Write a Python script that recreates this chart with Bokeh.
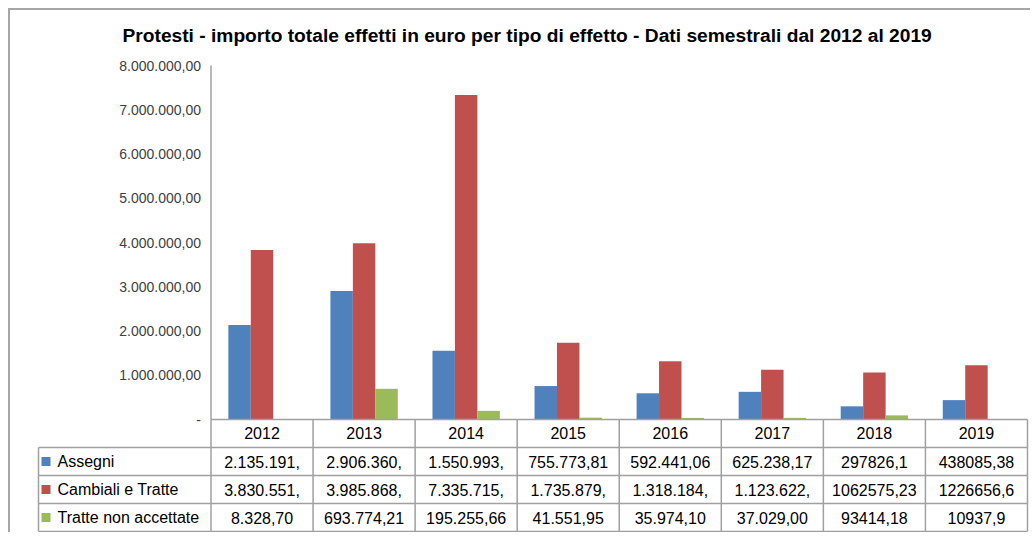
from bokeh.plotting import figure
from bokeh.models import ColumnDataSource, Range1d, LinearAxis, FixedTicker
from bokeh.core.properties import value
from bokeh.embed import file_html
from bokeh.resources import INLINE

# ---------------- data ----------------
years = ["2012", "2013", "2014", "2015", "2016", "2017", "2018", "2019"]
series_names = ["Assegni", "Cambiali e Tratte", "Tratte non accettate"]
assegni = [2135191.0, 2906360.0, 1550993.0, 755773.81, 592441.06, 625238.17, 297826.1, 438085.38]
cambiali = [3830551.0, 3985868.0, 7335715.0, 1735879.0, 1318184.0, 1123622.0, 1062575.23, 1226656.6]
tratte = [8328.70, 693774.21, 195255.66, 41551.95, 35974.10, 37029.00, 93414.18, 10937.9]
assegni_txt = ["2.135.191,", "2.906.360,", "1.550.993,", "755.773,81", "592.441,06", "625.238,17", "297826,1", "438085,38"]
cambiali_txt = ["3.830.551,", "3.985.868,", "7.335.715,", "1.735.879,", "1.318.184,", "1.123.622,", "1062575,23", "1226656,6"]
tratte_txt = ["8.328,70", "693.774,21", "195.255,66", "41.551,95", "35.974,10", "37.029,00", "93414,18", "10937,9"]
y_ticks = [0, 1000000, 2000000, 3000000, 4000000, 5000000, 6000000, 7000000, 8000000]
title_text = "Protesti - importo  totale effetti in euro per tipo di effetto - Dati semestrali dal 2012 al 2019"

# ---------------- layout constants (figure px; figure content starts at page 10,10) ----------------
W, H = 1022, 524
TOP = 40                 # frame top
ZERO_X = 200.5           # x px of category axis start
CAT_PX = 102.06          # px per category
ZERO_Y = 409             # y px of value 0
PX_PER_UNIT = 44.25 / 1e6
ROW_PX = 28.0
FRAME_H = H - TOP
LABEL_LEFT = (28 - ZERO_X) / CAT_PX
KEY_X = (35.5 - ZERO_X) / CAT_PX
TXT_X = (47 - ZERO_X) / CAT_PX
BAR_W = 0.22
colors = ["#4F81BD", "#C0504D", "#9BBB59"]
GRID = "#a0a0a0"
FONT = "Liberation Sans"

x_start = -ZERO_X / CAT_PX
x_end = (W - ZERO_X) / CAT_PX
zy = ZERO_Y - TOP
y_end = zy / PX_PER_UNIT
y_start = -(FRAME_H - zy) / PX_PER_UNIT
t_end = zy / ROW_PX
t_start = -(FRAME_H - zy) / ROW_PX

p = figure(width=W, height=H, output_backend="svg", toolbar_location=None,
           x_range=Range1d(x_start, x_end), y_range=Range1d(y_start, y_end),
           x_axis_location=None, y_axis_location=None,
           min_border_left=0, min_border_right=0, min_border_bottom=0, min_border_top=TOP,
           title=title_text)
p.extra_y_ranges = {"tbl": Range1d(t_start, t_end)}
p.outline_line_color = None
p.xgrid.visible = False
p.ygrid.visible = False
p.title.text_font = FONT
p.title.text_font_size = "19.2px"
p.title.text_font_style = "bold"
p.title.text_color = "black"
p.title.align = "left"
p.title.offset = 112
p.title.standoff = 10
p.styles = {"margin-left": "8px", "margin-top": "8px",
            "border-top": "2px solid #a6a6a6", "border-left": "2px solid #a6a6a6"}

n = len(years)
centers = [i + 0.5 for i in range(n)]

# bars
for k, vals in enumerate([assegni, cambiali, tratte]):
    src = ColumnDataSource(dict(x=[c + (k - 1) * BAR_W for c in centers], top=vals))
    p.vbar(x="x", top="top", bottom=0, width=BAR_W, source=src,
           fill_color=colors[k], line_color=None)

# y axis
yax = LinearAxis(fixed_location=0, ticker=FixedTicker(ticks=y_ticks))
def it_fmt(v):
    if v == 0:
        return "-"
    s = f"{v:,.2f}"
    return s.replace(",", "X").replace(".", ",").replace("X", ".")
yax.major_label_overrides = {v: it_fmt(v) for v in y_ticks}
yax.axis_line_color = None
yax.major_tick_in = 0
yax.major_tick_out = 0
yax.minor_tick_in = 0
yax.minor_tick_out = 0
yax.major_label_standoff = 10
yax.major_label_text_font = FONT
yax.major_label_text_font_size = "14px"
yax.major_label_text_color = "#404040"
p.add_layout(yax, "left")

# x axis (table header)
xax = LinearAxis(fixed_location=0, ticker=FixedTicker(ticks=centers))
xax.major_label_overrides = {c: y for c, y in zip(centers, years)}
xax.axis_line_color = None
xax.major_tick_in = 0
xax.major_tick_out = 0
xax.minor_tick_in = 0
xax.minor_tick_out = 0
xax.major_label_standoff = 7
xax.major_label_text_font = FONT
xax.major_label_text_font_size = "16px"
xax.major_label_text_color = "black"
p.add_layout(xax, "below")

# axis line (value part)
p.segment(x0=[0], y0=[0], x1=[0], y1=[y_ticks[-1]], line_color=GRID, line_width=1.5)

# table grid
h_x0 = [0] + [LABEL_LEFT] * 4
h_y = [0, -1, -2, -3, -4]
p.segment(x0=h_x0, y0=h_y, x1=[n] * 5, y1=h_y, line_color=GRID, line_width=1.5, y_range_name="tbl")
v_x = [LABEL_LEFT] + list(range(n + 1))
v_y0 = [-1] + [0] * (n + 1)
p.segment(x0=v_x, y0=v_y0, x1=v_x, y1=[-4] * len(v_x), line_color=GRID, line_width=1.5, y_range_name="tbl")

# table rows
for k, txts in enumerate([assegni_txt, cambiali_txt, tratte_txt]):
    t = -1.5 - k
    p.text(x=centers, y=[t] * n, text=txts, y_range_name="tbl", text_align="center",
           text_baseline="middle", text_font=value(FONT), text_font_size="16px", text_color="black")
    p.scatter(x=[KEY_X], y=[t], marker="square", size=9, fill_color=colors[k], line_color=None,
              y_range_name="tbl")
    p.text(x=[TXT_X], y=[t], text=[series_names[k]], y_range_name="tbl", text_align="left",
           text_baseline="middle", text_font=value(FONT), text_font_size="16px", text_color="black")

open("out.html", "w").write(file_html(p, INLINE))
